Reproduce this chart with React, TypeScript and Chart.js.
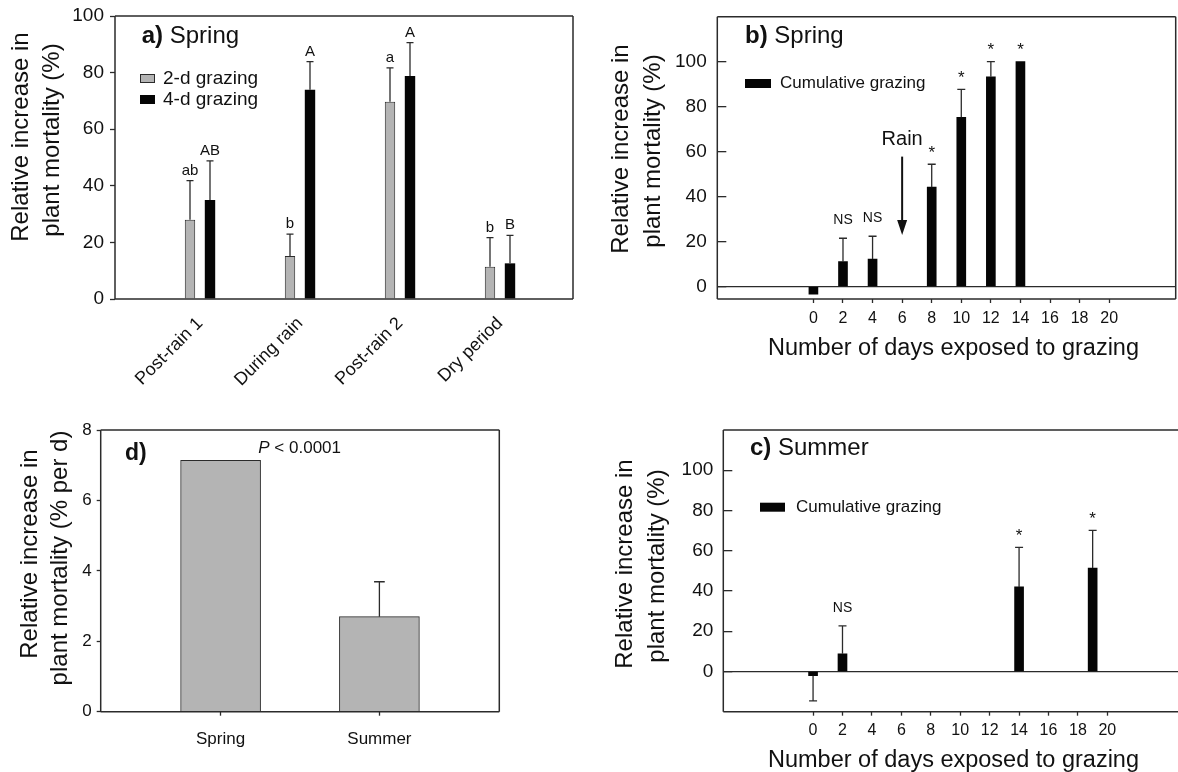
import React, { useEffect, useRef } from "react";
import { Chart, registerables } from "chart.js";

Chart.register(...registerables);

const FAMILY = '"Liberation Sans", Arial, Helvetica, sans-serif';
const INK = "#111111";
const LINE = "#2b2b2b";
const GRAY = "#b4b4b4";
const BLACK = "#050505";

Chart.defaults.font.family = FAMILY;
Chart.defaults.color = INK;

// ---------- Panel a) Spring: grazing duration by period ----------
const periods = ["Post-rain 1", "During rain", "Post-rain 2", "Dry period"];
const graze2d = [28, 15.2, 69.7, 11.4];
const graze2dErr = [13.8, 7.7, 12.0, 10.3];
const graze2dLetters = ["ab", "b", "a", "b"];
const graze4d = [35, 73.9, 78.8, 12.6];
const graze4dErr = [13.8, 10.0, 11.8, 9.9];
const graze4dLetters = ["AB", "A", "A", "B"];
const mortalityTicksA = [0, 20, 40, 60, 80, 100];

// ---------- Panel b) Spring: cumulative grazing ----------
const springDays = [0, 2, 4, 8, 10, 12, 14];
const springCum = [-3.4, 11.1, 12.3, 44.2, 75.3, 93.3, 100];
const springCumErr = [null, 10.4, 10.1, 10.2, 12.4, 6.7, null];
const springSig = ["", "NS", "NS", "*", "*", "*", "*"];
const dayTicks = [0, 2, 4, 6, 8, 10, 12, 14, 16, 18, 20];
const mortalityTicksBC = [0, 20, 40, 60, 80, 100];
const rainDay = 6;
const rainArrowFrom = 57.8;
const rainArrowTo = 23;
const rainLabelAt = 65.2;

// ---------- Panel c) Summer: cumulative grazing ----------
const summerDays = [0, 2, 14, 19];
const summerCum = [-2.1, 8.8, 42, 51.4];
const summerCumErr = [12.5, 13.9, 19.7, 18.7];
const summerSig = ["", "NS", "*", "*"];

// ---------- Panel d) daily rate ----------
const seasons = ["Spring", "Summer"];
const dailyRate = [7.14, 2.7];
const dailyRateErr = [null, 0.99];
const rateTicks = [0, 2, 4, 6, 8];

const fnt = (size: number, weight = "normal", style = "normal") =>
  `${style} ${weight} ${size}px ${FAMILY}`;

// ---------- plugins ----------
const makeFrame = (sides: string) => ({
  id: "frame",
  afterDatasetsDraw(chart: any) {
    const { ctx } = chart;
    const { left, right, top, bottom } = chart.chartArea;
    ctx.save();
    ctx.strokeStyle = LINE;
    ctx.lineWidth = 1.5;
    ctx.beginPath();
    if (sides.includes("l")) { ctx.moveTo(left, top); ctx.lineTo(left, bottom); }
    if (sides.includes("t")) { ctx.moveTo(left, top); ctx.lineTo(right, top); }
    if (sides.includes("r")) { ctx.moveTo(right, top); ctx.lineTo(right, bottom); }
    if (sides.includes("b")) { ctx.moveTo(left, bottom); ctx.lineTo(right, bottom); }
    ctx.stroke();
    ctx.restore();
  },
});

const makeErrorBars = (cfg: {
  cap: number;
  markFont: (t: string) => string;
  markOffset: (t: string) => number;
}) => ({
  id: "errorBars",
  afterDatasetsDraw(chart: any) {
    const { ctx } = chart;
    const yScale = chart.scales.y;
    chart.data.datasets.forEach((ds: any, di: number) => {
      const meta = chart.getDatasetMeta(di);
      meta.data.forEach((bar: any, j: number) => {
        const v = ds.data[j].y;
        const e = ds.errors ? ds.errors[j] : null;
        let top = bar.y;
        ctx.save();
        ctx.strokeStyle = LINE;
        ctx.lineWidth = 1.3;
        if (e !== null && e !== undefined) {
          const end = yScale.getPixelForValue(v < 0 ? v - e : v + e);
          ctx.beginPath();
          ctx.moveTo(bar.x, bar.y);
          ctx.lineTo(bar.x, end);
          ctx.moveTo(bar.x - cfg.cap / 2, end);
          ctx.lineTo(bar.x + cfg.cap / 2, end);
          ctx.stroke();
          top = Math.min(top, end);
        }
        const m = ds.marks ? ds.marks[j] : "";
        if (m) {
          ctx.fillStyle = INK;
          ctx.font = cfg.markFont(m);
          ctx.textAlign = "center";
          ctx.textBaseline = "middle";
          ctx.fillText(m, bar.x, top - cfg.markOffset(m));
        }
        ctx.restore();
      });
    });
  },
});

type Part = { text: string; font: string };
type Item =
  | { legend: number; x: number; y: number; w: number; h: number; textX: number; font: string }
  | { parts: Part[]; x: number; y: number; align?: string; baseline?: CanvasTextBaseline; rotate?: number };

const makeOverlay = (items: Item[]) => ({
  id: "overlay",
  afterDraw(chart: any) {
    const { ctx } = chart;
    items.forEach((it: any) => {
      ctx.save();
      if (it.legend !== undefined) {
        const ds = chart.data.datasets[it.legend];
        ctx.fillStyle = ds.backgroundColor;
        ctx.fillRect(it.x, it.y, it.w, it.h);
        if (ds.borderWidth) {
          ctx.strokeStyle = ds.borderColor;
          ctx.lineWidth = 1;
          ctx.strokeRect(it.x + 0.5, it.y + 0.5, it.w - 1, it.h - 1);
        }
        ctx.fillStyle = INK;
        ctx.font = it.font;
        ctx.textBaseline = "middle";
        ctx.textAlign = "left";
        ctx.fillText(ds.label, it.textX, it.y + it.h / 2);
      } else {
        ctx.translate(it.x, it.y);
        if (it.rotate) ctx.rotate(it.rotate);
        ctx.textBaseline = it.baseline || "alphabetic";
        ctx.textAlign = "left";
        ctx.fillStyle = INK;
        const widths = it.parts.map((p: Part) => {
          ctx.font = p.font;
          return ctx.measureText(p.text).width;
        });
        const total = widths.reduce((a: number, b: number) => a + b, 0);
        let cx = it.align === "center" ? -total / 2 : it.align === "right" ? -total : 0;
        it.parts.forEach((p: Part, i: number) => {
          ctx.font = p.font;
          ctx.fillText(p.text, cx, 0);
          cx += widths[i];
        });
      }
      ctx.restore();
    });
  },
});

const rainPlugin = {
  id: "rain",
  afterDatasetsDraw(chart: any) {
    const { ctx } = chart;
    const x = chart.scales.x.getPixelForValue(rainDay);
    const y1 = chart.scales.y.getPixelForValue(rainArrowFrom);
    const y2 = chart.scales.y.getPixelForValue(rainArrowTo);
    const yl = chart.scales.y.getPixelForValue(rainLabelAt);
    ctx.save();
    ctx.strokeStyle = INK;
    ctx.fillStyle = INK;
    ctx.lineWidth = 2;
    ctx.beginPath();
    ctx.moveTo(x, y1);
    ctx.lineTo(x, y2 - 12);
    ctx.stroke();
    ctx.beginPath();
    ctx.moveTo(x - 5, y2 - 15);
    ctx.lineTo(x + 5, y2 - 15);
    ctx.lineTo(x, y2);
    ctx.closePath();
    ctx.fill();
    ctx.font = fnt(20);
    ctx.textAlign = "center";
    ctx.textBaseline = "middle";
    ctx.fillText("Rain", x, yl);
    ctx.restore();
  },
};

const yTitle = (lines: string[], xs: number[], ys: number[], size = 24): Item[] =>
  lines.map((t, i) => ({
    parts: [{ text: t, font: fnt(size) }],
    x: xs[i],
    y: ys[i],
    align: "center",
    baseline: "middle" as CanvasTextBaseline,
    rotate: -Math.PI / 2,
  }));

const setTicks = (vals: number[]) => (s: any) => {
  s.ticks = vals.map((v) => ({ value: v }));
};

const fitY = (w: number) => (s: any) => {
  s.width = w;
  s.paddingTop = 0;
  s.paddingBottom = 0;
};

const baseOptions = (padding: any) => ({
  responsive: false,
  animation: false,
  events: [],
  layout: { padding },
  plugins: { legend: { display: false }, tooltip: { enabled: false } },
});

// ---------- Panel configs ----------
function panelA(): any {
  return {
    type: "bar",
    data: {
      datasets: [
        {
          label: "2-d grazing",
          data: periods.map((_, i) => ({ x: i + 1, y: graze2d[i] })),
          backgroundColor: GRAY,
          borderColor: LINE,
          borderWidth: 1,
          categoryPercentage: 0.4,
          barPercentage: 0.52,
          errors: graze2dErr,
          marks: graze2dLetters,
        },
        {
          label: "4-d grazing",
          data: periods.map((_, i) => ({ x: i + 1, y: graze4d[i] })),
          backgroundColor: BLACK,
          borderWidth: 0,
          categoryPercentage: 0.4,
          barPercentage: 0.52,
          errors: graze4dErr,
          marks: graze4dLetters,
        },
      ],
    },
    options: {
      ...baseOptions({ left: 0, top: 16, right: 17, bottom: 0 }),
      scales: {
        x: {
          type: "linear",
          min: 0.15,
          max: 4.73,
          offset: false,
          afterBuildTicks: setTicks(periods.map((_, i) => i + 1)),
          afterFit: (s: any) => { s.height = 96; s.paddingLeft = 0; s.paddingRight = 0; },
          grid: { display: false, drawTicks: false, offset: false },
          border: { display: false },
          ticks: {
            autoSkip: false,
            minRotation: 45,
            maxRotation: 45,
            padding: 14,
            font: { size: 18 },
            color: INK,
            callback: (v: any) => periods[Math.round(v) - 1] ?? "",
          },
        },
        y: {
          min: 0,
          max: 100,
          afterBuildTicks: setTicks(mortalityTicksA),
          afterFit: fitY(115),
          grid: { drawOnChartArea: false, drawTicks: true, tickLength: 5, tickColor: LINE, tickWidth: 1.3 },
          border: { display: false },
          ticks: { padding: 6, font: { size: 19 }, color: INK },
        },
      },
    },
    plugins: [
      makeFrame("ltrb"),
      makeErrorBars({ cap: 7, markFont: () => fnt(15), markOffset: () => 10 }),
      makeOverlay([
        { parts: [{ text: "a)", font: fnt(24, "bold") }, { text: " Spring", font: fnt(24) }], x: 141.7, y: 43.3 },
        { legend: 0, x: 140, y: 74, w: 15, h: 9, textX: 163, font: fnt(19) },
        { legend: 1, x: 140, y: 95, w: 15, h: 9, textX: 163, font: fnt(19) },
        ...yTitle(["Relative increase in", "plant mortality (%)"], [21, 52.5], [137, 140]),
      ]),
    ],
  };
}

function cumulativeConfig(opts: {
  days: number[];
  vals: number[];
  errs: (number | null)[];
  sig: string[];
  xmin: number;
  xmax: number;
  ymin: number;
  ymax: number;
  padding: any;
  yWidth: number;
  xHeight: number;
  xPad: number;
  yPad: number;
  frame: string;
  extra: any[];
}): any {
  return {
    type: "bar",
    data: {
      datasets: [
        {
          label: "Cumulative grazing",
          data: opts.days.map((d, i) => ({ x: d, y: opts.vals[i] })),
          backgroundColor: BLACK,
          borderWidth: 0,
          barThickness: 9,
          errors: opts.errs,
          marks: opts.sig,
        },
      ],
    },
    options: {
      ...baseOptions(opts.padding),
      scales: {
        x: {
          type: "linear",
          min: opts.xmin,
          max: opts.xmax,
          offset: false,
          afterBuildTicks: setTicks(dayTicks),
          afterFit: (s: any) => { s.height = opts.xHeight; s.paddingLeft = 0; s.paddingRight = 0; },
          grid: { display: true, offset: false, drawOnChartArea: false, drawTicks: true, tickLength: 4, tickColor: LINE, tickWidth: 1.3 },
          border: { display: false },
          ticks: { autoSkip: false, maxRotation: 0, minRotation: 0, padding: opts.xPad, font: { size: 16 }, color: INK },
        },
        y: {
          min: opts.ymin,
          max: opts.ymax,
          afterBuildTicks: setTicks(mortalityTicksBC),
          afterFit: fitY(opts.yWidth),
          grid: {
            display: true,
            drawOnChartArea: true,
            color: (c: any) => (c.tick && c.tick.value === 0 ? LINE : "rgba(0,0,0,0)"),
            lineWidth: 1.3,
            drawTicks: true,
            tickLength: -9,
            tickColor: LINE,
            tickWidth: 1.3,
          },
          border: { display: false },
          ticks: { padding: opts.yPad, font: { size: 19 }, color: INK },
        },
      },
    },
    plugins: [
      makeFrame(opts.frame),
      makeErrorBars({
        cap: 8,
        markFont: (t) => (t === "*" ? fnt(17) : fnt(14)),
        markOffset: (t) => (t === "*" ? 11 : 18),
      }),
      ...opts.extra,
    ],
  };
}

function panelB(): any {
  return cumulativeConfig({
    days: springDays,
    vals: springCum,
    errs: springCumErr,
    sig: springSig,
    xmin: -6.5,
    xmax: 24.5,
    ymin: -5.5,
    ymax: 120,
    padding: { left: 0, top: 16.7, right: 2.3, bottom: 0 },
    yWidth: 127.3,
    xHeight: 96,
    xPad: 6.4,
    yPad: 19.6,
    frame: "ltrb",
    extra: [
      rainPlugin,
      makeOverlay([
        { parts: [{ text: "b)", font: fnt(24, "bold") }, { text: " Spring", font: fnt(24) }], x: 155, y: 43.3 },
        { legend: 0, x: 155, y: 79, w: 26, h: 9, textX: 190, font: fnt(17) },
        ...yTitle(["Relative increase in", "plant mortality (%)"], [31.5, 63.5], [149, 151]),
        {
          parts: [{ text: "Number of days exposed to grazing", font: fnt(23.5) }],
          x: 363.5,
          y: 355,
          align: "center",
        },
      ]),
    ],
  });
}

function panelC(): any {
  return cumulativeConfig({
    days: summerDays,
    vals: summerCum,
    errs: summerCumErr,
    sig: summerSig,
    xmin: -6.1,
    xmax: 24.8,
    ymin: -20,
    ymax: 120,
    padding: { left: 0, top: 35, right: 0, bottom: 0 },
    yWidth: 133.3,
    xHeight: 60.3,
    xPad: 5.4,
    yPad: 19,
    frame: "ltb",
    extra: [
      makeOverlay([
        { parts: [{ text: "c)", font: fnt(24, "bold") }, { text: " Summer", font: fnt(24) }], x: 160, y: 60 },
        { legend: 0, x: 170, y: 107.7, w: 25, h: 9, textX: 206, font: fnt(17) },
        ...yTitle(["Relative increase in", "plant mortality (%)"], [35.6, 67], [169, 171]),
        {
          parts: [{ text: "Number of days exposed to grazing", font: fnt(23.5) }],
          x: 363.5,
          y: 371.7,
          align: "center",
        },
      ]),
    ],
  });
}

function panelD(): any {
  return {
    type: "bar",
    data: {
      datasets: [
        {
          label: "Rate",
          data: seasons.map((_, i) => ({ x: i + 1, y: dailyRate[i] })),
          backgroundColor: GRAY,
          borderColor: LINE,
          borderWidth: 1,
          barThickness: 80,
          errors: dailyRateErr,
        },
      ],
    },
    options: {
      ...baseOptions({ left: 0, top: 35, right: 90.7, bottom: 0 }),
      scales: {
        x: {
          type: "linear",
          min: 0.245,
          max: 2.755,
          offset: false,
          afterBuildTicks: setTicks(seasons.map((_, i) => i + 1)),
          afterFit: (s: any) => { s.height = 60.3; s.paddingLeft = 0; s.paddingRight = 0; },
          grid: { display: true, offset: false, drawOnChartArea: false, drawTicks: true, tickLength: 4, tickColor: LINE, tickWidth: 1.3 },
          border: { display: false },
          ticks: {
            autoSkip: false,
            maxRotation: 0,
            minRotation: 0,
            padding: 13.7,
            font: { size: 17 },
            color: INK,
            callback: (v: any) => seasons[Math.round(v) - 1] ?? "",
          },
        },
        y: {
          min: 0,
          max: 8,
          afterBuildTicks: setTicks(rateTicks),
          afterFit: fitY(100.7),
          grid: { drawOnChartArea: false, drawTicks: true, tickLength: 4, tickColor: LINE, tickWidth: 1.3 },
          border: { display: false },
          ticks: { padding: 5, font: { size: 17 }, color: INK },
        },
      },
    },
    plugins: [
      makeFrame("ltrb"),
      makeErrorBars({ cap: 10.7, markFont: () => fnt(15), markOffset: () => 10 }),
      makeOverlay([
        { parts: [{ text: "d)", font: fnt(23, "bold") }], x: 125, y: 65 },
        {
          parts: [{ text: "P", font: fnt(17, "normal", "italic") }, { text: " < 0.0001", font: fnt(17) }],
          x: 258.3,
          y: 57.7,
        },
        ...yTitle(["Relative increase in", "plant mortality (% per d)"], [30.6, 60.6], [159, 163]),
      ]),
    ],
  };
}

function Panel(props: { left: number; top: number; width: number; height: number; make: () => any }) {
  const ref = useRef<HTMLCanvasElement>(null);
  useEffect(() => {
    const chart = new Chart(ref.current as HTMLCanvasElement, props.make());
    return () => chart.destroy();
  }, []);
  return (
    <canvas
      ref={ref}
      width={props.width}
      height={props.height}
      style={{ position: "absolute", left: props.left, top: props.top, width: props.width, height: props.height }}
    />
  );
}

export default function App() {
  return (
    <div
      style={{
        position: "fixed",
        left: 0,
        top: 0,
        width: 1178,
        height: 772,
        background: "#ffffff",
        overflow: "hidden",
      }}
    >
      <Panel left={0} top={0} width={590} height={395} make={panelA} />
      <Panel left={590} top={0} width={588} height={395} make={panelB} />
      <Panel left={0} top={395} width={590} height={377} make={panelD} />
      <Panel left={590} top={395} width={588} height={377} make={panelC} />
    </div>
  );
}
